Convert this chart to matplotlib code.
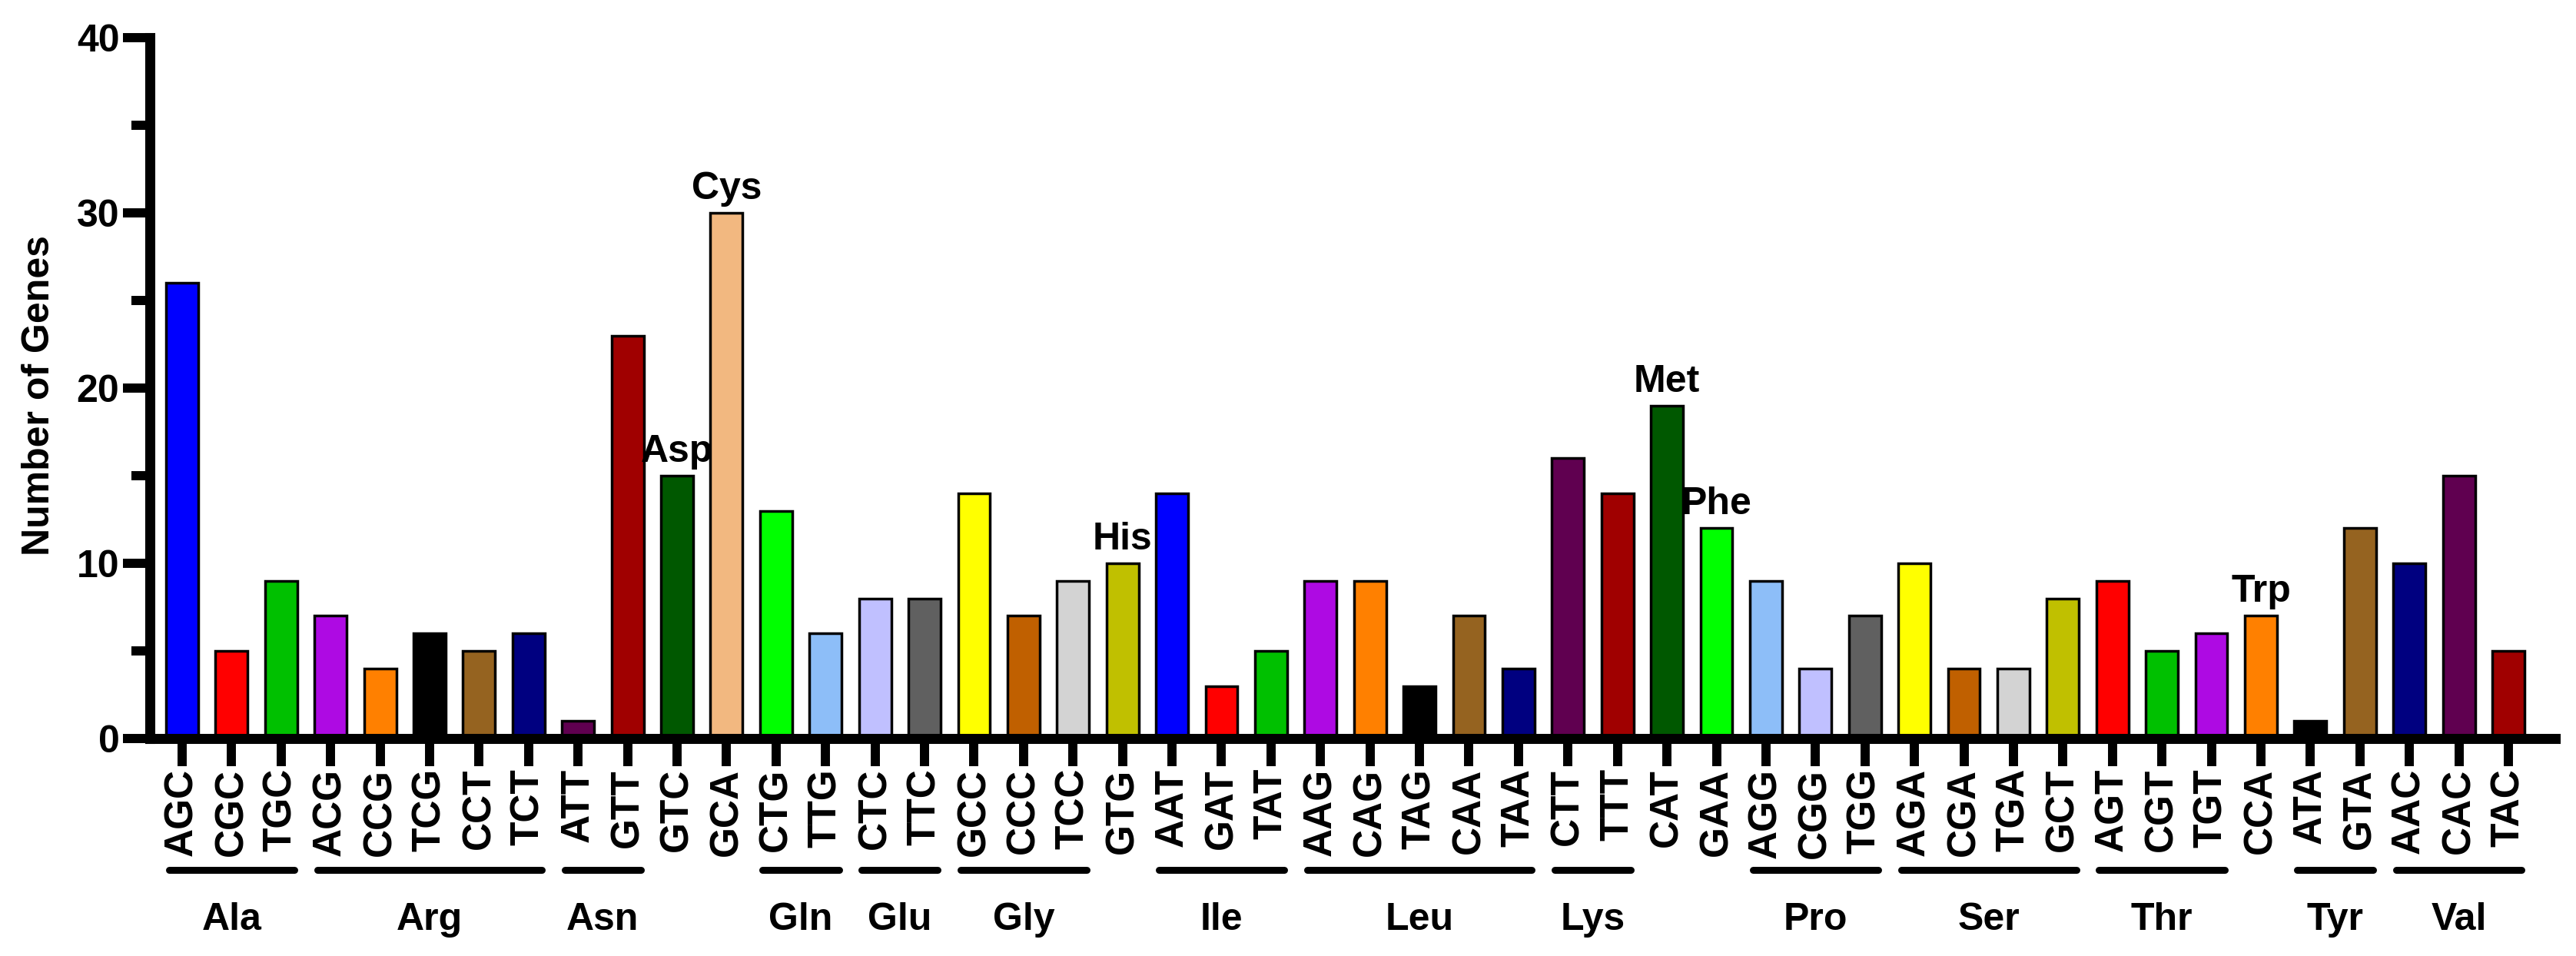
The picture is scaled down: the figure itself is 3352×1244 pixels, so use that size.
import matplotlib
matplotlib.use("Agg")
import matplotlib.pyplot as plt
from matplotlib.ticker import MultipleLocator

# codon (anticodon) labels, gene counts and amino acid per bar
codons = ["AGC", "CGC", "TGC", "ACG", "CCG", "TCG", "CCT", "TCT", "ATT", "GTT",
          "GTC", "GCA", "CTG", "TTG", "CTC", "TTC", "GCC", "CCC", "TCC", "GTG",
          "AAT", "GAT", "TAT", "AAG", "CAG", "TAG", "CAA", "TAA", "CTT", "TTT",
          "CAT", "GAA", "AGG", "CGG", "TGG", "AGA", "CGA", "TGA", "GCT", "AGT",
          "CGT", "TGT", "CCA", "ATA", "GTA", "AAC", "CAC", "TAC"]
counts = [26, 5, 9, 7, 4, 6, 5, 6, 1, 23,
          15, 30, 13, 6, 8, 8, 14, 7, 9, 10,
          14, 3, 5, 9, 9, 3, 7, 4, 16, 14,
          19, 12, 9, 4, 7, 10, 4, 4, 8, 9,
          5, 6, 7, 1, 12, 10, 15, 5]
amino = ["Ala"] * 3 + ["Arg"] * 5 + ["Asn"] * 2 + ["Asp", "Cys"] + ["Gln"] * 2 \
    + ["Glu"] * 2 + ["Gly"] * 3 + ["His"] + ["Ile"] * 3 + ["Leu"] * 5 + ["Lys"] * 2 \
    + ["Met", "Phe"] + ["Pro"] * 3 + ["Ser"] * 4 + ["Thr"] * 3 + ["Trp"] \
    + ["Tyr"] * 2 + ["Val"] * 3

colors = ["#0000FF", "#FF0000", "#00C000", "#AE0AE3", "#FF8000", "#000000", "#956320", "#000080",
          "#600050", "#A00000", "#005800", "#F2B880", "#00FF00", "#8DBEF8", "#C0C0FF", "#606060",
          "#FFFF00", "#C06000", "#D3D3D3", "#C0C000",
          "#0000FF", "#FF0000", "#00C000", "#AE0AE3", "#FF8000", "#000000", "#956320", "#000080",
          "#600050", "#A00000", "#005800", "#00FF00", "#8DBEF8", "#C0C0FF", "#606060",
          "#FFFF00", "#C06000", "#D3D3D3", "#C0C000",
          "#FF0000", "#00C000", "#AE0AE3", "#FF8000", "#000000", "#956320", "#000080",
          "#600050", "#A00000"]

plt.rcParams["font.family"] = ["Liberation Sans", "DejaVu Sans"]
plt.rcParams["font.weight"] = "bold"

fig = plt.figure(figsize=(33.52, 12.44), dpi=100)
ax = fig.add_axes([0.05817, 0.2275, 0.93377, 0.7331])

xs = list(range(len(codons)))
ax.bar(xs, counts, width=0.65, color=colors, edgecolor="black", linewidth=2.5)

ax.set_xlim(-0.652, len(codons) - 1 + 0.947)
ax.set_ylim(0, 40)
ax.set_xticks(xs)
ax.set_xticklabels(codons, rotation=90, fontsize=37, fontweight="bold")
ax.yaxis.set_major_locator(MultipleLocator(10))
ax.yaxis.set_minor_locator(MultipleLocator(5))
for lab in ax.get_yticklabels():
    lab.set_fontsize(36)
    lab.set_fontweight("bold")

for s in ["top", "right"]:
    ax.spines[s].set_visible(False)
for s in ["left", "bottom"]:
    ax.spines[s].set_linewidth(9.4)
ax.tick_params(axis="x", which="major", length=26, width=8.6, pad=2)
ax.tick_params(axis="y", which="major", length=25, width=8.6, pad=3.6)
ax.tick_params(axis="y", which="minor", length=17, width=8.6)

ax.text(-0.046, 0.49, "Number of Genes", transform=ax.transAxes, rotation=90,
        ha="center", va="center", fontsize=36, fontweight="bold")

# group amino acids: lines + labels below, single codons annotated above bar
groups = []
for i, aa in enumerate(amino):
    if groups and groups[-1][0] == aa:
        groups[-1][2] = i
    else:
        groups.append([aa, i, i])

trans = ax.get_xaxis_transform()
for aa, a, b in groups:
    if a == b:
        ax.annotate(aa, (a, counts[a]), xytext=(0, 13), textcoords="offset points",
                    ha="center", va="baseline", fontsize=36, fontweight="bold")
    else:
        ax.plot([a - 0.27, b + 0.27], [-0.1875, -0.1875], transform=trans, color="black",
                lw=6.5, solid_capstyle="round", clip_on=False)
        ax.text((a + b) / 2, -0.273, aa, transform=trans, ha="center", va="baseline",
                fontsize=36, fontweight="bold")

fig.savefig("out.png", dpi=100)
